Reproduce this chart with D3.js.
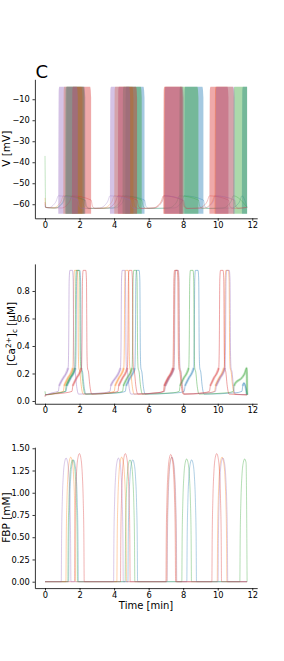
<!DOCTYPE html>
<html>
<head>
<meta charset="utf-8">
<script src="https://cdn.jsdelivr.net/npm/d3@7"></script>
<style>
  body { margin: 0; background: #fff; }
  text { font-family: "DejaVu Sans", sans-serif; }
</style>
</head>
<body>
<div id="chart"></div>
<script>
// ---- values ----
var tEnd = 11.7;
// cells: blue, orange, green, red, purple (matplotlib tab10)
var cellColors = ["#1f77b4", "#ff7f0e", "#2ca02c", "#d62728", "#9467bd"];
// time of the FBP peak of each oscillation [min]
var peakTimes = [
  [1.65, 5.08, 8.49, 12.0],
  [1.49, 4.44, 7.33, 10.25],
  [1.60, 4.92, 8.20, 11.56],
  [1.99, 4.65, 7.28, 9.94],
  [1.22, 4.25, 7.35, 10.30]
];
// FBP peak height [mM]
var peakFBP = [
  [1.37, 1.37, 1.37, 1.37],
  [1.40, 1.40, 1.40, 1.40],
  [1.37, 1.37, 1.38, 1.38],
  [1.44, 1.44, 1.43, 1.44],
  [1.39, 1.39, 1.40, 1.39]
];
// start of each burst of spikes [min]
var burstStarts = [
  [1.22, 4.65, 8.06, 11.40],
  [1.06, 4.01, 6.90, 9.82],
  [1.17, 4.49, 7.77, 10.90],
  [1.56, 4.22, 6.85, 9.52],
  [0.77, 3.76, 6.92, 9.87]
];
var burstTail = 0.68;          // burst ends this long after the FBP peak
var vInitial = [-61, -57, -37, -59, -60];
var caInitial = [0.04, 0.05, 0.07, 0.03, 0.045];

// shape of one event
var fbpPulse = [[-0.28, 0], [-0.26, 0.35], [-0.22, 0.65], [-0.16, 0.86], [-0.08, 0.97], [0, 1],
                [0.08, 0.97], [0.16, 0.86], [0.22, 0.65], [0.26, 0.35], [0.28, 0]];
var caRise = [[0, 0.07], [0.05, 0.11], [0.12, 0.13]];            // from burst start
var caPulse = [[-0.15, 0.17], [0, 0.2], [0.12, 0.24], [0.15, 0.4], [0.18, 0.88], [0.22, 0.95],
               [0.37, 0.95], [0.41, 0.88], [0.44, 0.35], [0.47, 0.24], [0.53, 0.21],
               [0.6, 0.12], [0.66, 0.07], [0.72, 0.05]];          // from FBP peak
var vAfter = [[0, -58], [0.08, -61], [0.25, -62]];               // from burst end
var vBefore = [[-0.6, -61.8], [-0.3, -60.5], [-0.12, -58.5], [0, -56]]; // to burst start
var vBandTop = [[0, -9], [0.025, -5.5], [0.06, -4]];             // rounded edge of a burst
var vBandLow = -64.5;

var xTicks = [0, 2, 4, 6, 8, 10, 12];
var vTicks = [-60, -50, -40, -30, -20, -10];
var caTicks = [0, 0.2, 0.4, 0.6, 0.8];
var fbpTicks = [0, 0.25, 0.5, 0.75, 1, 1.25, 1.5];

// ---- layout ----
var W = 284, H = 661;
var svg = d3.select("#chart").append("svg").attr("width", W).attr("height", H);

var x = d3.scaleLinear().domain([-0.585, 12.285]).range([34.9, 257.2]);
var yV = d3.scaleLinear().domain([-66.7, -0.5]).range([218.3, 79.3]);
var yCa = d3.scaleLinear().domain([-0.02, 0.997]).range([403.75, 263.9]);
var yF = d3.scaleLinear().domain([-0.072, 1.512]).range([588.1, 447.2]);

function clipT(pts) {
  return pts.filter(function(p) { return p[0] >= 0 && p[0] <= tEnd; });
}

function sorted(pts) {
  var out = [];
  pts.forEach(function(p) {
    if (!out.length || p[0] > out[out.length - 1][0]) out.push(p);
  });
  return out;
}

function drawAxes(g, y, ticks, fmt) {
  var ax = g.append("g").attr("transform", "translate(0," + y.range()[0] + ")")
    .call(d3.axisBottom(x).tickValues(xTicks).tickSize(2.4).tickPadding(1.2).tickSizeOuter(0));
  var ay = g.append("g").attr("transform", "translate(" + x.range()[0] + ",0)")
    .call(d3.axisLeft(y).tickValues(ticks).tickFormat(d3.format(fmt)).tickSize(2.4).tickPadding(2.6).tickSizeOuter(0));
  [ax, ay].forEach(function(a) {
    a.selectAll("text").style("font-size", "8.3px").style("font-family", "DejaVu Sans").attr("fill", "#000");
    a.selectAll("line").attr("stroke", "#000").attr("stroke-width", 0.8);
    a.select(".domain").attr("stroke", "#000").attr("stroke-width", 0.8);
  });
}

function yLabel(xPos, yPos, txt) {
  return svg.append("text").attr("transform", "translate(" + xPos + "," + yPos + ") rotate(-90)")
    .attr("text-anchor", "middle").style("font-size", "10.5px").text(txt);
}

var lineV = d3.line().x(function(d) { return x(d[0]); }).y(function(d) { return yV(d[1]); }).curve(d3.curveMonotoneX);
var lineCa = d3.line().x(function(d) { return x(d[0]); }).y(function(d) { return yCa(d[1]); }).curve(d3.curveMonotoneX);
var lineF = d3.line().x(function(d) { return x(d[0]); }).y(function(d) { return yF(d[1]); }).curve(d3.curveMonotoneX);
var bandV = d3.area().x(function(d) { return x(d[0]); }).y0(yV(vBandLow)).y1(function(d) { return yV(d[1]); })
  .curve(d3.curveMonotoneX);

// ---- panel 1: membrane potential ----
var g1 = svg.append("g");
cellColors.forEach(function(col, i) {
  var pts = [[0, vInitial[i]], [0.04, -61.5]];
  var prevEnd = 0.04;
  burstStarts[i].forEach(function(s, k) {
    var e = peakTimes[i][k] + burstTail;
    vBefore.forEach(function(p) { if (s + p[0] > prevEnd + 0.1) pts.push([s + p[0], p[1]]); });
    if (s < tEnd) {
      var top = [];
      vBandTop.forEach(function(p) { top.push([s + p[0], p[1]]); });
      vBandTop.slice().reverse().forEach(function(p) { top.push([e - p[0], p[1]]); });
      var band = [[s, vBandLow + 0.5]].concat(top).concat([[e, vBandLow + 0.5]]);
      band = band.map(function(p) { return [Math.min(p[0], tEnd), p[1]]; });
      g1.append("path").datum(sorted(band)).attr("d", bandV)
        .attr("fill", col).attr("fill-opacity", 0.4);
    }
    vAfter.forEach(function(p) { pts.push([e + p[0], p[1]]); });
    prevEnd = e + vAfter[vAfter.length - 1][0];
  });
  pts.push([tEnd, -61.5]);
  g1.append("path").datum(sorted(clipT(pts))).attr("d", lineV)
    .attr("fill", "none").attr("stroke", col).attr("stroke-opacity", 0.4).attr("stroke-width", 0.7);
});
drawAxes(g1, yV, vTicks, "d");
yLabel(10.3, 148.8, "V [mV]");
svg.append("text").attr("x", 35.5).attr("y", 78.3).style("font-size", "18px").text("C");

// ---- panel 2: cytosolic calcium ----
var g2 = svg.append("g");
cellColors.forEach(function(col, i) {
  var pts = [[0, caInitial[i]], [0.04, 0.045]];
  var plateau = [];
  burstStarts[i].forEach(function(s, k) {
    var tp = peakTimes[i][k];
    pts.push([s - 0.35, 0.06]);
    caRise.forEach(function(p) { if (s + p[0] < tp - 0.15) pts.push([s + p[0], p[1]]); });
    caPulse.forEach(function(p) { pts.push([tp + p[0], p[1]]); });
    plateau.push([s + 0.05, tp + 0.14]);
  });
  pts.push([tEnd, 0.045]);
  var path = sorted(clipT(pts));
  g2.append("path").datum(path).attr("d", lineCa)
    .attr("fill", "none").attr("stroke", col).attr("stroke-opacity", 0.42).attr("stroke-width", 1);
  // plateau part looks thicker because of the spikes
  plateau.forEach(function(r) {
    var seg = path.filter(function(p) { return p[0] >= r[0] - 0.001 && p[0] <= r[1]; });
    if (seg.length > 1)
      g2.append("path").datum(seg).attr("d", lineCa)
        .attr("fill", "none").attr("stroke", col).attr("stroke-opacity", 0.3).attr("stroke-width", 2.4);
  });
});
drawAxes(g2, yCa, caTicks, ".1f");
var caLab = yLabel(14.5, 333.8, "");
caLab.append("tspan").text("[Ca");
caLab.append("tspan").attr("dy", -4).style("font-size", "7.3px").text("2+");
caLab.append("tspan").attr("dy", 4).text("]");
caLab.append("tspan").attr("dy", 2.5).style("font-size", "7.3px").text("c");
caLab.append("tspan").attr("dy", -2.5).text(" [\u03bcM]");

// ---- panel 3: FBP ----
var g3 = svg.append("g");
cellColors.forEach(function(col, i) {
  var pts = [[0, 0]];
  peakTimes[i].forEach(function(tp, k) {
    fbpPulse.forEach(function(p) { pts.push([tp + p[0], p[1] * peakFBP[i][k]]); });
  });
  pts.push([tEnd, 0]);
  g3.append("path").datum(sorted(clipT(pts))).attr("d", lineF)
    .attr("fill", "none").attr("stroke", col).attr("stroke-opacity", 0.35).attr("stroke-width", 1);
});
drawAxes(g3, yF, fbpTicks, ".2f");
yLabel(9.6, 517.6, "FBP [mM]");
svg.append("text").attr("x", 146).attr("y", 608.5).attr("text-anchor", "middle")
  .style("font-size", "10px").text("Time [min]");
</script>
</body>
</html>
